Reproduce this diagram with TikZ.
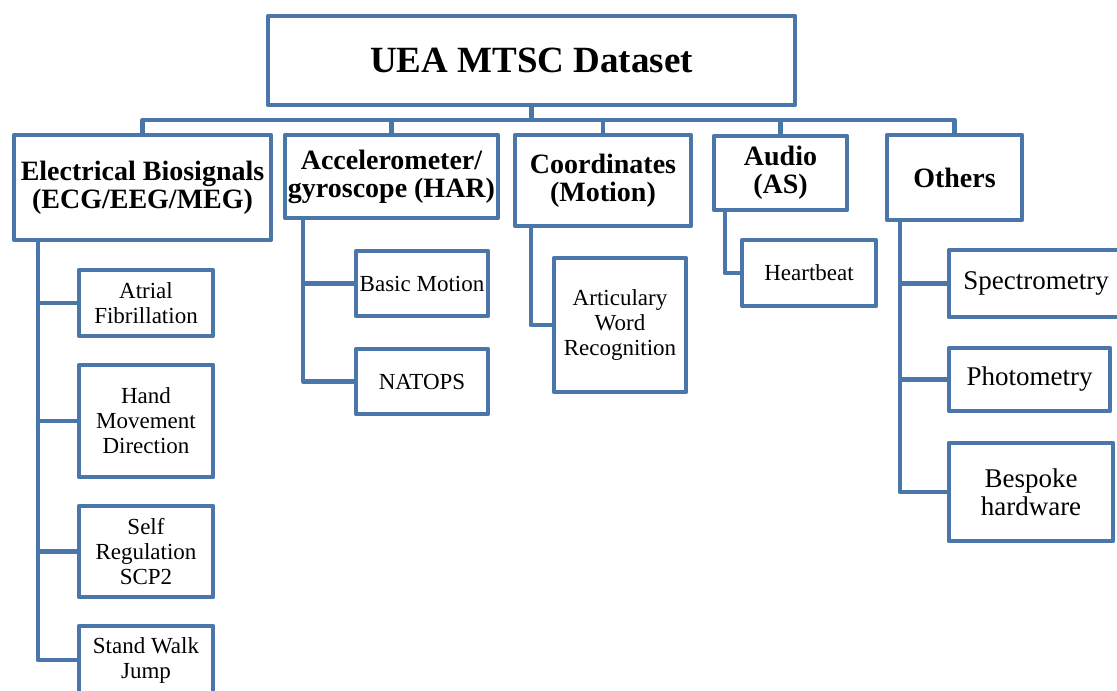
\documentclass[tikz,border=0pt]{standalone}
\usepackage{fontspec}
\setmainfont{Liberation Serif}
\definecolor{boxblue}{RGB}{74,118,170}
\begin{document}
\begin{tikzpicture}[x=1pt,y=-1pt,
  box/.style={draw=boxblue,line width=4.5pt,line join=round,inner sep=0pt,align=center,fill=white},
  head/.style={box,font=\fontsize{28}{28}\selectfont\bfseries},
  leaf/.style={box,font=\fontsize{23}{25}\selectfont},
  bigleaf/.style={box,font=\fontsize{27}{28}\selectfont},
  link/.style={draw=boxblue,line width=4.5pt,line join=round}]
\clip (0,0) rectangle (1117,691);

% root
\node[box,minimum width=527pt,minimum height=89pt,font=\fontsize{37}{40}\selectfont\bfseries] (root) at (531.5,60.5) {UEA MTSC Dataset};

% categories
\node[head,minimum width=257pt,minimum height=105pt] (elec) at (142.5,187.5) {Electrical Biosignals\\(ECG/EEG/MEG)};
\node[head,minimum width=213pt,minimum height=83pt] (accel) at (391.5,176.5) {Accelerometer/\\gyroscope (HAR)};
\node[head,minimum width=176pt,minimum height=91pt] (coord) at (603,180.5) {Coordinates\\(Motion)};
\node[head,minimum width=133pt,minimum height=74pt] (audio) at (780.5,173) {Audio\\(AS)};
\node[head,minimum width=135pt,minimum height=85pt] (others) at (954.5,177.5) {Others};

% datasets
\node[leaf,minimum width=134pt,minimum height=66pt] (atrial) at (146,303) {Atrial\\Fibrillation};
\node[leaf,minimum width=134pt,minimum height=112pt] (hand) at (146,421) {Hand\\Movement\\Direction};
\node[leaf,minimum width=134pt,minimum height=91pt] (self) at (146,551.5) {Self\\Regulation\\SCP2};
\node[leaf,minimum width=134pt,minimum height=68pt] (stand) at (146,660) {Stand Walk\\Jump};
\node[leaf,minimum width=132pt,minimum height=65pt] (basic) at (422,283.5) {Basic Motion};
\node[leaf,minimum width=132pt,minimum height=65pt] (natops) at (422,381.5) {NATOPS};
\node[leaf,minimum width=132pt,minimum height=134pt] (artic) at (620,325) {Articulary\\Word\\Recognition};
\node[leaf,minimum width=134pt,minimum height=66pt] (heart) at (809,273) {Heartbeat};
\node[bigleaf,minimum width=174pt,minimum height=67pt] (spectro) at (1036,283.5) {Spectrometry};
\node[bigleaf,minimum width=161pt,minimum height=63pt] (photo) at (1029.5,379.5) {Photometry};
\node[bigleaf,minimum width=164pt,minimum height=98pt] (bespoke) at (1031,492) {Bespoke\\hardware};

% bus
\coordinate (bus) at (0,120);
\draw[link] (root.south) -- (root.south |- bus);
\draw[link] (elec.north) |- (others.north |- bus) -- (others.north);
\foreach \n in {accel,coord,audio}
  \draw[link] (\n.north) -- (\n.north |- bus);

% trunks
\coordinate (etrunk) at ([xshift=26pt]elec.south west);
\coordinate (atrunk) at ([xshift=20pt]accel.south west);
\coordinate (ctrunk) at ([xshift=18pt]coord.south west);
\coordinate (utrunk) at ([xshift=13pt]audio.south west);
\coordinate (otrunk) at ([xshift=15pt]others.south west);
\draw[link] (etrunk) |- (stand.west);
\foreach \n in {atrial,hand,self}
  \draw[link] (etrunk |- \n.west) -- (\n.west);
\draw[link] (atrunk) |- (natops.west);
\draw[link] (atrunk |- basic.west) -- (basic.west);
\draw[link] (ctrunk) |- (artic.west);
\draw[link] (utrunk) |- (heart.west);
\draw[link] (otrunk) |- (bespoke.west);
\foreach \n in {spectro,photo}
  \draw[link] (otrunk |- \n.west) -- (\n.west);
\end{tikzpicture}
\end{document}
